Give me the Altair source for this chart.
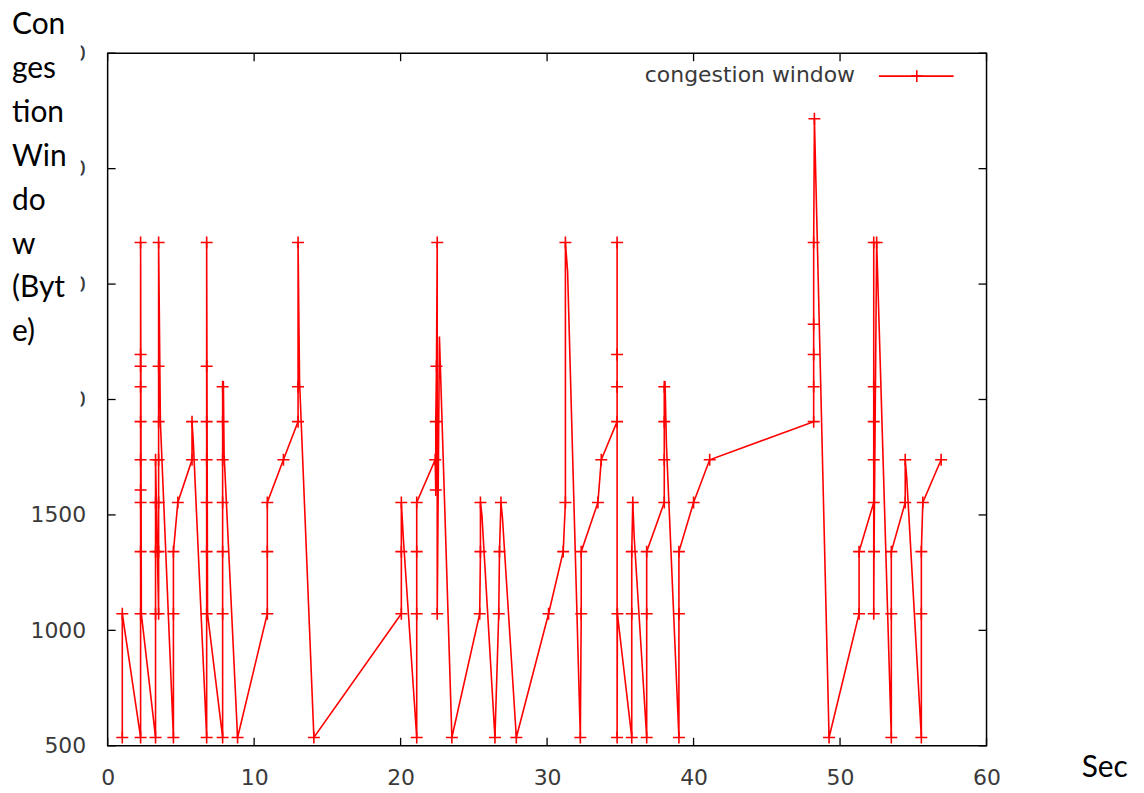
import altair as alt
import pandas as pd

# ---- data (time in s, congestion window in bytes) ----
t_sec = [
    1.0, 1.0,
    2.25, 2.25, 2.25, 2.25, 2.25, 2.25, 2.25, 2.25, 2.25, 2.25, 2.25, 2.3,
    3.27, 3.27, 3.27, 3.27, 3.27, 3.48, 3.48, 3.48, 3.48, 3.48, 3.48, 3.48, 3.6,
    4.49, 4.49, 4.49, 4.79, 5.76, 5.76, 5.85,
    6.76, 6.76, 6.76, 6.76, 6.76, 6.76, 6.76, 6.76, 6.82,
    7.85, 7.85, 7.85, 7.85, 7.85, 7.85, 7.85, 7.9, 7.95,
    8.87,
    10.9, 10.9, 10.9, 12.0,
    13.0, 13.0, 13.0, 13.1,
    14.08,
    20.05, 20.05, 20.05, 20.2,
    21.1, 21.1, 21.1, 21.1,
    22.36, 22.4, 22.4, 22.45, 22.5, 22.5, 22.65,
    23.5,
    25.4, 25.45, 25.45, 25.55,
    26.44, 26.7, 26.75, 26.85, 26.95,
    27.9, 30.1, 31.1, 31.25, 31.25, 31.4,
    32.27, 32.33, 32.33, 33.47, 33.7,
    34.78, 34.78, 34.78, 34.78, 34.78, 34.8,
    35.78, 35.78, 35.78, 35.85, 35.95,
    36.8, 36.8, 36.8, 38.0, 38.0, 38.0, 38.0, 38.05, 38.15,
    39.0, 39.0, 39.0, 40.0, 41.1,
    48.2, 48.2, 48.2, 48.2, 48.2, 48.25,
    49.25, 51.3, 51.3,
    52.3, 52.3, 52.3, 52.3, 52.3, 52.3, 52.32, 52.5, 52.55,
    53.5, 53.5, 53.5, 54.45, 54.45, 54.55,
    55.55, 55.55, 55.55, 55.65, 56.9,
]
cwnd_bytes = [
    536, 1072,
    536, 1072, 1341, 1554, 1608, 1739, 1904, 2055, 2144, 2195, 2680, 1072,
    536, 1072, 1341, 1554, 1739, 1072, 1341, 1554, 1739, 1904, 2144, 2680, 1904,
    536, 1072, 1341, 1554, 1739, 1904, 1813,
    536, 1072, 1341, 1554, 1739, 1904, 2144, 2680, 1072,
    536, 1072, 1341, 1554, 1739, 1904, 2055, 2080, 1763,
    536,
    1072, 1341, 1554, 1739,
    1904, 2055, 2680, 2080,
    536,
    1072, 1341, 1554, 1385,
    536, 1072, 1341, 1554,
    1739, 1608, 1904, 2144, 2680, 1072, 2273,
    536,
    1072, 1341, 1554, 1500,
    536, 1072, 1341, 1554, 1490,
    536, 1072, 1341, 1554, 2680, 2555,
    536, 1072, 1341, 1554, 1739,
    1904, 2055, 2195, 2680, 536, 1072,
    536, 1072, 1341, 1554, 1400,
    536, 1072, 1341, 1554, 1739, 1904, 2055, 2080, 1800,
    536, 1072, 1341, 1554, 1739,
    1904, 2055, 2195, 2326, 2680, 3216,
    536, 1072, 1341,
    1554, 1739, 1904, 2055, 2680, 1072, 1341, 2680, 2573,
    536, 1072, 1341, 1554, 1739, 1664,
    536, 1072, 1341, 1554, 1739,
]
# 1 = a "+" point is drawn there, 0 = the line only passes through
has_marker = [
    1, 1,
    1, 1, 1, 1, 1, 1, 1, 1, 1, 1, 1, 0,
    1, 1, 1, 1, 1, 1, 1, 1, 1, 1, 1, 1, 0,
    1, 1, 1, 1, 1, 1, 0,
    1, 1, 1, 1, 1, 1, 1, 1, 0,
    1, 1, 1, 1, 1, 1, 1, 0, 0,
    1,
    1, 1, 1, 1,
    1, 1, 1, 0,
    1,
    1, 1, 1, 0,
    1, 1, 1, 1,
    1, 1, 1, 1, 1, 1, 0,
    1,
    1, 1, 1, 0,
    1, 1, 1, 1, 0,
    1, 1, 1, 1, 1, 0,
    1, 1, 1, 1, 1,
    1, 1, 1, 1, 1, 1,
    1, 1, 1, 1, 0,
    1, 1, 1, 1, 1, 1, 1, 0, 0,
    1, 1, 1, 1, 1,
    1, 1, 1, 1, 1, 1,
    1, 1, 1,
    1, 1, 1, 1, 1, 1, 1, 1, 0,
    1, 1, 1, 1, 1, 0,
    1, 1, 1, 1, 1,
]
x_ticks = [0, 10, 20, 30, 40, 50, 60]
y_ticks = [500, 1000, 1500, 2000, 2500, 3000, 3500]
series_name = ["congestion window"]
y_title_lines = ["Con", "ges", "tion", "Win", "do", "w", "(Byt", "e)"]
x_title = "Sec"

W, H = 882, 695
PLUS = "M-1,0L1,0M0,-1L0,1"
RED = "#ff0000"
LBL = "#3a3a3a"

df = pd.DataFrame({"t": t_sec, "cwnd": cwnd_bytes, "m": has_marker,
                   "i": list(range(len(t_sec)))})
xt = pd.DataFrame({"t": x_ticks})
yt = pd.DataFrame({"cwnd": y_ticks})
leg = pd.DataFrame({"name": series_name})
ttl = pd.DataFrame({"k": [0]})

xs = alt.Scale(domain=[0, 60], nice=False, zero=False)
ys = alt.Scale(domain=[500, 3500], nice=False, zero=False)

x_axis = alt.Axis(
    values=x_ticks, ticks=False, domain=False, grid=False, labelFlush=False,
    format="d", zindex=0,
    labelPadding=22, labelFont="DejaVu Sans", labelFontSize=22, labelColor=LBL,
    title=x_title, titleFont="Lato", titleFontSize=30, titleFontWeight="normal",
    titleColor="#000000", titleX=977, titleY=31, titleAlign="left",
    titleBaseline="alphabetic",
)
y_axis = alt.Axis(
    values=y_ticks, ticks=False, domain=False, grid=False, labelFlush=False,
    format="d", zindex=0,
    labelPadding=22, labelFont="DejaVu Sans", labelFontSize=22, labelColor=LBL,
    title="",
)

line = alt.Chart(df).mark_line(color=RED, strokeWidth=1.6).encode(
    x=alt.X("t:Q", scale=xs, axis=x_axis),
    y=alt.Y("cwnd:Q", scale=ys, axis=y_axis),
    order="i:Q",
)
pts = alt.Chart(df).transform_filter("datum.m == 1").mark_point(
    shape=PLUS, size=144, filled=False, color=RED, strokeWidth=1.6, opacity=1
).encode(x="t:Q", y="cwnd:Q")

tick_style = dict(color="#000000", strokeWidth=1.3)
left_t = alt.Chart(yt).mark_rule(**tick_style).encode(
    y="cwnd:Q", x=alt.value(0), x2=alt.value(8))
right_t = alt.Chart(yt).mark_rule(**tick_style).encode(
    y="cwnd:Q", x=alt.value(W - 8), x2=alt.value(W))
bottom_t = alt.Chart(xt).mark_rule(**tick_style).encode(
    x="t:Q", y=alt.value(H - 8), y2=alt.value(H))
top_t = alt.Chart(xt).mark_rule(**tick_style).encode(
    x="t:Q", y=alt.value(0), y2=alt.value(8))

# white text box of the y title (it hides most of the upper tick labels)
title_box = alt.Chart(ttl).mark_rect(color="#ffffff", opacity=1).encode(
    x=alt.value(-110), x2=alt.value(-27), y=alt.value(-60), y2=alt.value(410))
title_txt = alt.Chart(ttl).mark_text(
    align="left", baseline="alphabetic", font="Lato", fontSize=30,
    lineHeight=44, color="#000000",
).encode(text=alt.value(y_title_lines), x=alt.value(-96), y=alt.value(-19))

leg_text = alt.Chart(leg).mark_text(
    align="right", baseline="middle", font="DejaVu Sans", fontSize=22, color=LBL
).encode(text="name:N", x=alt.value(750), y=alt.value(22))
leg_line = alt.Chart(leg).mark_rule(color=RED, strokeWidth=1.6).encode(
    x=alt.value(774), x2=alt.value(849), y=alt.value(23))
leg_pt = alt.Chart(leg).mark_point(
    shape=PLUS, size=144, filled=False, color=RED, strokeWidth=1.6, opacity=1
).encode(x=alt.value(812), y=alt.value(23))

chart = alt.layer(
    line, pts, left_t, right_t, bottom_t, top_t,
    title_box, title_txt, leg_text, leg_line, leg_pt
).properties(
    width=W, height=H,
    autosize=alt.AutoSizeParams(type="none"),
    padding={"left": 100, "top": 44, "right": 150, "bottom": 43},
).configure_view(stroke="#000000", strokeWidth=1.5)

chart.save("out.html", embed_options={"renderer": "svg", "actions": False})
